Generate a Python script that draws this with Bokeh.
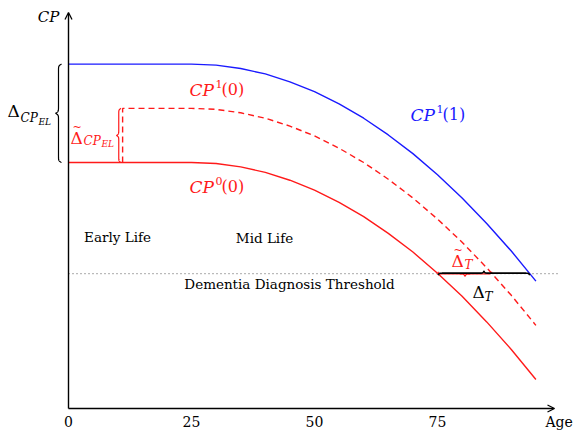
import numpy as np
from bokeh.plotting import figure
from bokeh.models import Range1d, Arrow, OpenHead
from bokeh.core.properties import value
from bokeh.embed import file_html
from bokeh.resources import INLINE

# ---- data ----
age = [0, 25, 30, 35, 40, 45, 50, 55, 60, 65, 70, 75, 80, 85, 90, 95]
cp1_1 = [70.0, 70.0, 69.8, 69.1, 68.0, 66.4, 64.4, 61.9, 59.0, 55.6, 51.8, 47.5, 42.8, 37.6, 32.0, 25.9]
cp0_0 = [50.0, 50.0, 49.8, 49.1, 48.0, 46.4, 44.4, 41.9, 39.0, 35.6, 31.8, 27.5, 22.8, 17.6, 12.0, 5.9]
age_cp1_0 = [11, 11, 25, 30, 35, 40, 45, 50, 55, 60, 65, 70, 75, 80, 85, 90, 95]
cp1_0 = [50.0, 61.0, 61.0, 60.8, 60.1, 59.0, 57.4, 55.4, 52.9, 50.0, 46.6, 42.8, 38.5, 33.8, 28.6, 23.0, 16.9]
threshold = 27.4
x_ticks = [0, 25, 50, 75]
x_tick_labels = ["0", "25", "50", "75"]

PX = 4.92  # pixels per data unit (both axes)
W, H = 577, 430
x0 = -68 / PX
y1 = 408 / PX

p = figure(width=W, height=H, output_backend="svg", toolbar_location=None,
           x_range=Range1d(x0, x0 + W / PX), y_range=Range1d(y1 - H / PX, y1),
           min_border=0, min_border_left=0, min_border_right=0,
           min_border_top=0, min_border_bottom=0)
p.axis.visible = False
p.grid.visible = False
p.outline_line_color = None
p.background_fill_color = "white"

SERIF = value("DejaVu Serif")
RED = "#ff1a1a"
BLUE = "#1a1aff"

def X(px):
    return (px - 68) / PX

def Y(py):
    return (408 - py) / PX

# axes
p.add_layout(Arrow(end=OpenHead(size=7, line_width=1.3), x_start=0, y_start=0,
                   x_end=X(554), y_end=0, line_width=1.4, line_color="black"))
p.add_layout(Arrow(end=OpenHead(size=7, line_width=1.3), x_start=0, y_start=0,
                   x_end=0, y_end=Y(12), line_width=1.4, line_color="black"))

# threshold
p.line([0, X(560)], [threshold, threshold], line_color="#555555", line_width=1,
       line_dash="1 3")

# curves
p.line(age, cp1_1, line_color=BLUE, line_width=1.4)
p.line(age, cp0_0, line_color=RED, line_width=1.4)
p.line(age_cp1_0, cp1_0, line_color=RED, line_width=1.4, line_dash="6 4")


def sig(z):
    return 1.0 / (1.0 + np.exp(-z))


def brace(pa, pb, amp, beta):
    pa = np.asarray(pa, float)
    pb = np.asarray(pb, float)
    L = np.hypot(*(pb - pa))
    d = (pb - pa) / L
    n = np.array([-d[1], d[0]])
    s = np.linspace(0, L, 300)
    sm = np.where(s <= L / 2, s, L - s)
    f = sig(beta * sm) + sig(beta * (sm - L / 2)) - 0.5
    pts = pa[None, :] + s[:, None] * d[None, :] + (f * amp)[:, None] * n[None, :]
    return pts[:, 0], pts[:, 1]

# vertical braces (tip to the left)
bx, by = brace((X(61), cp1_1[0]), (X(61), cp0_0[0]), -6 / PX, 6.0)
p.line(bx, by, line_color="black", line_width=1.2)
bx, by = brace((X(120.5), cp1_0[1]), (X(120.5), cp0_0[0]), -4.5 / PX, 7.0)
p.line(bx, by, line_color=RED, line_width=1.2)

# threshold crossings
def crossing(xs, ys, t):
    xs = np.asarray(xs, float)
    ys = np.asarray(ys, float)
    return float(np.interp(t, ys[::-1], xs[::-1]))

c0 = crossing(age, cp0_0, threshold)
c10 = crossing(age_cp1_0[1:], cp1_0[1:], threshold)
c11 = crossing(age, cp1_1, threshold)

# red brace above the threshold (tip up), black brace below (tip down)
bx, by = brace((c10, threshold + 0.4), (c0, threshold + 0.4), 4.5 / PX, 8.0)
p.line(bx, by, line_color=RED, line_width=1.3)
bx, by = brace((c0, threshold - 0.3), (c11, threshold - 0.3), 4 / PX, 8.0)
p.line(bx, by, line_color="black", line_width=1.6)


def txt(x, y, s, size, color="black", italic=False, align="left"):
    p.text(x=[x], y=[y], text=[s], text_font=SERIF, text_font_size=size,
           text_color=color, text_align=align, text_baseline="middle",
           text_font_style="italic" if italic else "normal")

# tick labels
for t, lab in zip(x_ticks, x_tick_labels):
    txt(t, Y(421), lab, "14px", align="center")
txt(X(545), Y(421), "Age", "14px")
txt(X(48), Y(16), "CP", "15px", italic=True, align="center")

# curve labels: CP (italic) + superscript + argument
def cp_label(px, py, sup, arg, color):
    txt(X(px), Y(py), "CP", "17px", color, italic=True)
    txt(X(px + 26), Y(py - 6), sup, "11px", color)
    txt(X(px + 32), Y(py), arg, "16px", color)

cp_label(189, 89, "1", "(0)", RED)
cp_label(189, 186, "0", "(0)", RED)
cp_label(410, 114, "1", "(1)", BLUE)

# region labels
txt(X(117), Y(236), "Early Life", "13.5px", align="center")
txt(X(264), Y(237), "Mid Life", "13.5px", align="center")
txt(X(289), Y(283), "Dementia Diagnosis Threshold", "13.5px", align="center")

# delta labels
txt(X(7), Y(110), "\u0394", "17px")
txt(X(20), Y(117), "CP", "12px", italic=True)
txt(X(38), Y(121), "EL", "9px", italic=True)

txt(X(70), Y(137), "\u0394", "17px", RED)
txt(X(76.5), Y(127), "~", "11px", RED, align="center")
txt(X(83), Y(140), "CP", "12px", RED, italic=True)
txt(X(101), Y(143), "EL", "9px", RED, italic=True)

txt(X(451), Y(260), "\u0394", "17px", RED)
txt(X(457.5), Y(250), "~", "11px", RED, align="center")
txt(X(464), Y(264), "T", "12px", RED, italic=True)

txt(X(472), Y(291), "\u0394", "17px")
txt(X(484), Y(296), "T", "12px", italic=True)

open("out.html", "w").write(file_html(p, INLINE))
